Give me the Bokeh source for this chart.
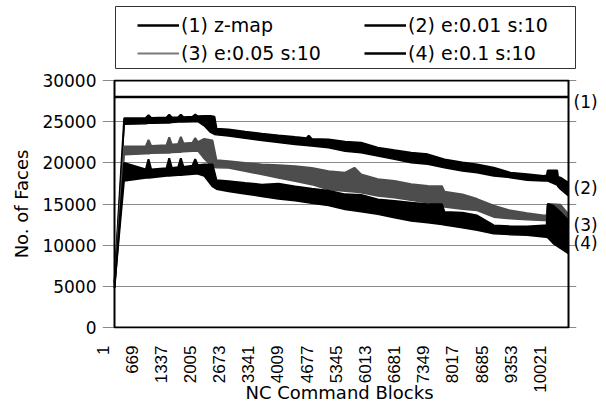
import math

from bokeh.embed import file_html
from bokeh.layouts import column
from bokeh.models import (BoxAnnotation, FixedTicker, Legend, LegendItem,
                          LinearAxis, Range1d)
from bokeh.plotting import figure
from bokeh.resources import INLINE

FONT = "DejaVu Sans"
TICK_FONT = "Liberation Sans"

# Axis ticks
block_ticks = [1, 669, 1337, 2005, 2673, 3341, 4009, 4677, 5345, 6013,
               6681, 7349, 8017, 8685, 9353, 10021]
face_ticks = [0, 5000, 10000, 15000, 20000, 25000, 30000]

# extent of the plotted box (blocks, faces)
box_blocks = (276, 10675)
box_faces = (0, 30000)

series_names = ["(1) z-map", "(2) e:0.01 s:10", "(3) e:0.05 s:10", "(4) e:0.1 s:10"]
end_tags = ["(1)", "(2)", "(3)", "(4)"]
end_tag_faces = [27400, 16900, 12500, 10300]

# (1) z-map: constant face count
zmap_blocks = [276, 10665]
zmap_faces = [28000, 28000]

# (2) e:0.01 s:10 -- lower / upper envelope of the face count
s2_blocks = [276, 498, 994, 1055, 1116, 1468, 1529, 1590, 1735, 1795, 1856,
             2062, 2125, 2185, 2330, 2475, 2565, 2612, 2887, 3269, 3650, 4032,
             4414, 4675, 4725, 4795, 5177, 5559, 5925, 6307, 6689, 7070, 7452,
             7834, 8246, 8582, 8963, 9345, 9727, 10108, 10175, 10200, 10414,
             10435, 10490, 10665]
s2_low = [5500, 24700, 24750, 24800, 24800, 24850, 24850, 24900, 24950, 24950,
          24950, 25000, 25000, 25000, 24500, 23700, 23450, 23400, 23250, 22970,
          22720, 22480, 22230, 22100, 22080, 22030, 21830, 21400, 21230, 20830,
          20420, 20020, 19820, 19410, 19000, 18800, 18400, 18200, 17880, 17800,
          17800, 17800, 17300, 17100, 16800, 16000]
s2_high = [5500, 25400, 25450, 25800, 25450, 25500, 25850, 25500, 25550, 25850,
           25550, 25600, 25850, 25650, 25700, 25700, 25600, 24150, 24050, 23780,
           23540, 23330, 23130, 23000, 23300, 22900, 22840, 22550, 22450, 21840,
           21520, 21230, 21030, 20420, 20050, 19800, 19400, 18800, 18600, 18400,
           18450, 19080, 19080, 18300, 18200, 17600]

# (3) e:0.05 s:10
s3_blocks = [276, 498, 994, 1055, 1116, 1468, 1529, 1590, 1735, 1795, 1856,
             2062, 2125, 2185, 2330, 2521, 2612, 2887, 3269, 3650, 4032, 4414,
             4795, 5177, 5559, 5772, 5925, 6307, 6689, 7070, 7452, 7775, 7834,
             8246, 8582, 8963, 9345, 9727, 10108, 10175, 10200, 10490, 10665]
s3_low = [5200, 20980, 21100, 21100, 21150, 21200, 21200, 21250, 21300, 21300,
          21350, 21400, 21400, 21450, 20500, 19500, 19400, 19380, 18980, 18570,
          18160, 17750, 17350, 16740, 16550, 16450, 16370, 15970, 15770, 15440,
          15160, 14900, 14630, 14350, 14200, 13400, 13200, 13080, 13000, 13000,
          11400, 11400, 11400]
s3_high = [5200, 21990, 22000, 22800, 22050, 22150, 23100, 22200, 22300, 23150,
           22350, 22450, 23000, 22500, 22900, 22700, 20300, 20200, 19990, 19790,
           19710, 19590, 19380, 18980, 18800, 19400, 18600, 18000, 17790, 17390,
           17180, 17150, 16500, 16170, 15600, 14800, 14200, 13880, 13600, 13600,
           15000, 14900, 13800]

# (4) e:0.1 s:10
s4_blocks = [276, 498, 994, 1055, 1116, 1468, 1529, 1590, 1735, 1795, 1856,
             2062, 2125, 2185, 2330, 2521, 2612, 2887, 3269, 3650, 4032, 4414,
             4795, 5177, 5559, 5925, 6307, 6689, 7070, 7452, 7775, 7834, 8246,
             8582, 8963, 9345, 9727, 10108, 10175, 10200, 10325, 10490, 10665]
s4_low = [4800, 17800, 18150, 18150, 18200, 18400, 18400, 18420, 18480, 18500,
          18520, 18620, 18650, 18650, 18400, 17100, 16800, 16530, 16220, 15920,
          15600, 15400, 15100, 14830, 14330, 14060, 13740, 13340, 12930, 12730,
          12500, 12450, 12100, 11800, 11400, 11280, 11200, 11000, 10950, 10900,
          10200, 9600, 9000]
s4_high = [4800, 20000, 19200, 20450, 19200, 19350, 20550, 19380, 19450, 20550,
           19500, 19650, 20450, 19700, 19800, 19800, 17900, 17760, 17550, 17350,
           17450, 17140, 16860, 16610, 16170, 16090, 15560, 15360, 15160, 14960,
           14960, 14030, 13950, 13600, 12400, 12280, 12280, 12400, 12400, 15000,
           14800, 14000, 13000]

band_colors = ["black", "black", "#4d4d4d", "black"]
key_colors = ["black", "black", "#7a7a7a", "black"]
key_widths = [2.5, 2.5, 2, 2.5]

# Both figures share the same horizontal borders (the column lines up their
# frames); the key strip uses pixel-like ranges to place its frame box.
BORDER_L, BORDER_R = 102, 30

# ---------------------------------------------------------------- legend strip
key = figure(width=606, height=72, output_backend="svg", toolbar_location=None,
             x_range=Range1d(102, 576), y_range=Range1d(72, 4),
             x_axis_location=None, y_axis_location=None,
             min_border_left=BORDER_L, min_border_right=BORDER_R,
             min_border_top=4, min_border_bottom=0)
key.grid.visible = False
key.outline_line_color = None
key.background_fill_color = "white"
key.border_fill_color = "white"
key.add_layout(BoxAnnotation(left=115, right=575, top=6, bottom=68,
                             fill_alpha=0, line_color="#333333",
                             line_alpha=1, line_width=1))

key_items = []
for name, col, lw in zip(series_names, key_colors, key_widths):
    # one undefined point: the renderer only supplies the legend swatch
    r = key.line(x=[float("nan")], y=[float("nan")], line_color=col, line_width=lw)
    key_items.append(LegendItem(label=name, renderers=[r]))

legend = Legend(
    items=key_items, location=(35, 5), orientation="horizontal", ncols=2,
    spacing=0, padding=0, margin=0,
    glyph_width=42, glyph_height=28, label_height=28, label_width=183,
    label_standoff=2, border_line_color=None, background_fill_alpha=0,
    label_text_font=FONT, label_text_font_size="19px",
    label_text_color="black",
)
key.add_layout(legend)

# ------------------------------------------------------------------ main chart
# The x range reaches back to block 1 so that its label is drawn left of the
# plotted box; the box itself is drawn as an annotation.
p = figure(width=606, height=341, output_backend="svg", toolbar_location=None,
           x_range=Range1d(1, 10858), y_range=Range1d(-121, 30121),
           min_border_left=BORDER_L, min_border_right=BORDER_R,
           min_border_top=7, min_border_bottom=85)
p.background_fill_color = "white"
p.border_fill_color = "white"
p.outline_line_color = None

p.xgrid.visible = False
p.ygrid.grid_line_color = "#8a8a8a"
p.ygrid.grid_line_width = 1
p.ygrid.bounds = box_blocks

tag_axis = LinearAxis(ticker=FixedTicker(ticks=end_tag_faces),
                      major_label_overrides=dict(zip(end_tag_faces, end_tags)))
p.add_layout(tag_axis, "right")

for ax in (p.xaxis[0], p.yaxis[0], tag_axis):
    ax.axis_line_color = None
    ax.major_tick_line_color = None
    ax.minor_tick_line_color = None
    ax.major_tick_out = 0
    ax.major_tick_in = 0
    ax.minor_tick_out = 0
    ax.major_label_text_font = FONT
    ax.major_label_text_font_size = "17px"
    ax.major_label_text_color = "black"
    ax.axis_label_text_font = FONT
    ax.axis_label_text_font_style = "normal"
    ax.axis_label_text_color = "black"

tag_axis.major_label_standoff = -3

p.yaxis[0].ticker = FixedTicker(ticks=face_ticks)
p.yaxis[0].major_label_standoff = 6
p.yaxis[0].axis_label = "No. of Faces"
p.yaxis[0].axis_label_text_font_size = "18px"
p.yaxis[0].axis_label_standoff = 7

p.xaxis[0].ticker = FixedTicker(ticks=block_ticks)
p.xaxis[0].major_label_orientation = math.pi / 2
p.xaxis[0].major_label_text_font = TICK_FONT
p.xaxis[0].major_label_standoff = 17
p.xaxis[0].axis_label = "NC Command Blocks"
p.xaxis[0].axis_label_text_font_size = "18px"
p.xaxis[0].axis_label_standoff = -14

p.line(zmap_blocks, zmap_faces, line_color=band_colors[0], line_width=2.5)

for blocks, low, high, col in ((s2_blocks, s2_low, s2_high, band_colors[1]),
                               (s3_blocks, s3_low, s3_high, band_colors[2]),
                               (s4_blocks, s4_low, s4_high, band_colors[3])):
    p.varea(x=blocks, y1=low, y2=high, fill_color=col)
    p.line(blocks, low, line_color=col, line_width=1.5)
    p.line(blocks, high, line_color=col, line_width=2)

p.add_layout(BoxAnnotation(left=box_blocks[0], right=box_blocks[1],
                           bottom=box_faces[0], top=box_faces[1],
                           fill_alpha=0, line_color="black",
                           line_alpha=1, line_width=2))

layout = column(key, p, spacing=0)
open("out.html", "w").write(file_html(layout, INLINE))
